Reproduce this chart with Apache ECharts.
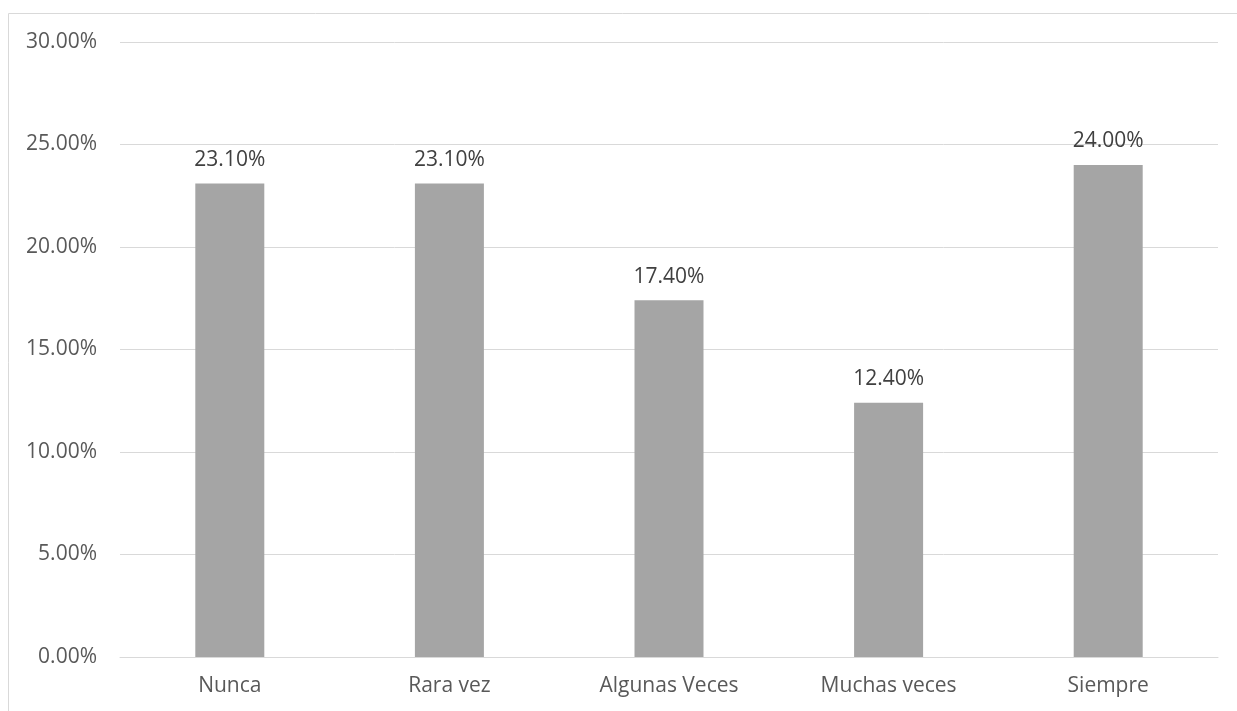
<!DOCTYPE html>
<html><head><meta charset="utf-8">
<script src="https://cdn.jsdelivr.net/npm/echarts@6/dist/echarts.min.js"></script>
<style>html,body{margin:0;padding:0;background:#fff}#c{width:1237px;height:711px}</style>
</head><body><div id="c"></div>
<script>
const categories = ['Nunca', 'Rara vez', 'Algunas Veces', 'Muchas veces', 'Siempre'];
const values = [23.1, 23.1, 17.4, 12.4, 24.0];
const yTicks = [0, 5, 10, 15, 20, 25, 30];

const chart = echarts.init(document.getElementById('c'));
const font = '"Open Sans", "Liberation Sans", sans-serif';
chart.setOption({
  animation: false,
  graphic: [
    {type: 'line', shape: {x1: 8.5, y1: 13.5, x2: 1237, y2: 13.5}, style: {stroke: '#d9d9d9', lineWidth: 1}},
    {type: 'line', shape: {x1: 8.5, y1: 13.5, x2: 8.5, y2: 711}, style: {stroke: '#d9d9d9', lineWidth: 1}}
  ],
  grid: {left: 120, right: 19, top: 42, bottom: 54},
  xAxis: {
    type: 'category', data: categories,
    axisLine: {lineStyle: {color: '#d9d9d9'}},
    axisTick: {show: false},
    axisLabel: {color: '#595959', fontSize: 21, fontFamily: font, margin: 19}
  },
  yAxis: {
    type: 'value', min: yTicks[0], max: yTicks[yTicks.length - 1], interval: 5,
    axisLine: {show: false}, axisTick: {show: false},
    splitLine: {lineStyle: {color: '#d9d9d9'}},
    axisLabel: {color: '#595959', fontSize: 21, fontFamily: font, margin: 23,
      formatter: v => v.toFixed(2) + '%'}
  },
  series: [{
    type: 'bar', data: values, barWidth: 69,
    itemStyle: {color: '#a5a5a5'},
    label: {show: true, position: 'top', distance: 13, color: '#404040', fontSize: 21, fontFamily: font,
      formatter: p => p.value.toFixed(2) + '%'}
  }]
});
</script></body></html>
